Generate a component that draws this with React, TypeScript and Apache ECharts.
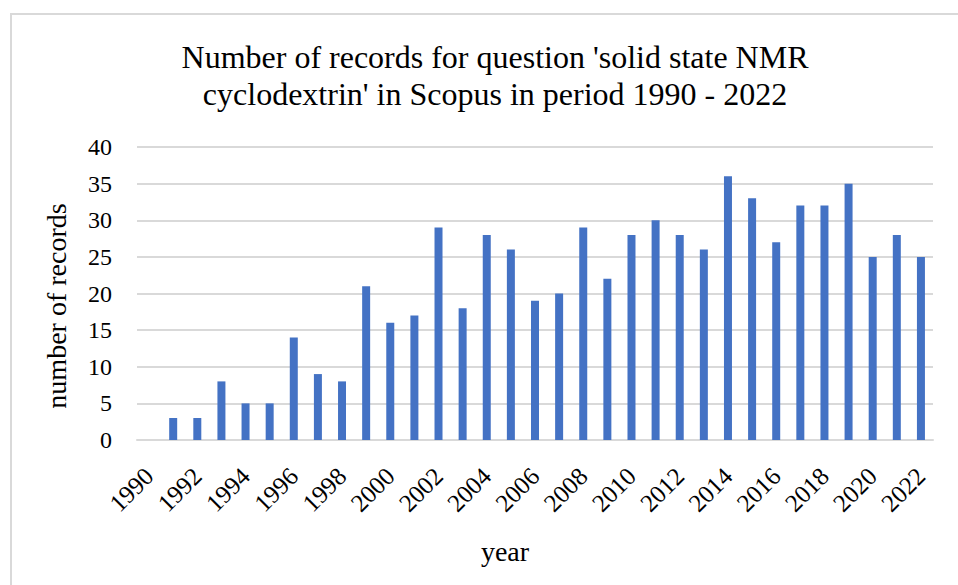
import React, { useEffect, useRef } from "react";
import * as echarts from "echarts";

const years: string[] = [
  "1990", "1991", "1992", "1993", "1994", "1995", "1996", "1997", "1998", "1999",
  "2000", "2001", "2002", "2003", "2004", "2005", "2006", "2007", "2008", "2009",
  "2010", "2011", "2012", "2013", "2014", "2015", "2016", "2017", "2018", "2019",
  "2020", "2021", "2022",
];

const records: number[] = [
  0, 3, 3, 8, 5, 5, 14, 9, 8, 21,
  16, 17, 29, 18, 28, 26, 19, 20, 29, 22,
  28, 30, 28, 26, 36, 33, 27, 32, 32, 35,
  25, 28, 25,
];

const titleText = "Number of records for question 'solid state NMR\ncyclodextrin' in Scopus in period 1990 - 2022";
const yAxisTitle = "number of records";
const xAxisTitle = "year";

const FONT = "'Liberation Serif', 'Times New Roman', serif";

export default function App() {
  const ref = useRef<HTMLDivElement>(null);

  useEffect(() => {
    if (!ref.current) return;
    const chart = echarts.init(ref.current, undefined, { renderer: "svg" });
    chart.setOption({
      animation: false,
      backgroundColor: "#ffffff",
      textStyle: { fontFamily: FONT },
      title: {
        text: titleText,
        left: 490,
        top: 33,
        textAlign: "center",
        textStyle: {
          fontFamily: FONT,
          fontSize: 32,
          fontWeight: "normal",
          color: "#000000",
          lineHeight: 37,
        },
      },
      graphic: [
        {
          type: "rect",
          shape: { x: 11, y: 14, width: 1000, height: 700 },
          style: { fill: "none", stroke: "#d9d9d9", lineWidth: 2 },
          silent: true,
        },
        // axis titles, placed on their own so they sit where the layout wants them
        {
          type: "text",
          x: 56,
          y: 306,
          rotation: Math.PI / 2,
          style: {
            text: yAxisTitle,
            font: `28px ${FONT}`,
            fill: "#000000",
            align: "center",
            verticalAlign: "middle",
          },
          silent: true,
        },
        {
          type: "text",
          x: 505,
          y: 551,
          style: {
            text: xAxisTitle,
            font: `28px ${FONT}`,
            fill: "#000000",
            align: "center",
            verticalAlign: "middle",
          },
          silent: true,
        },
      ],
      grid: { left: 137, right: 25, top: 147, bottom: 145 },
      xAxis: {
        type: "category",
        data: years,
        boundaryGap: true,
        axisLine: { lineStyle: { color: "#d9d9d9", width: 2 } },
        axisTick: { show: false },
        axisLabel: {
          interval: 1,
          rotate: 45,
          fontFamily: FONT,
          fontSize: 25,
          color: "#000000",
          margin: 32,
        },
      },
      yAxis: {
        type: "value",
        min: 0,
        max: 40,
        interval: 5,
        axisLine: { show: false },
        axisTick: { show: false },
        splitLine: { lineStyle: { color: "#d9d9d9", width: 2 } },
        axisLabel: {
          fontFamily: FONT,
          fontSize: 24,
          color: "#000000",
          margin: 25,
        },
      },
      series: [
        {
          type: "bar",
          data: records,
          barWidth: 8,
          itemStyle: { color: "#4472c4" },
        },
      ],
    });
    return () => chart.dispose();
  }, []);

  return (
    <div
      ref={ref}
      style={{ position: "fixed", left: 0, top: 0, width: 958, height: 585 }}
    />
  );
}
